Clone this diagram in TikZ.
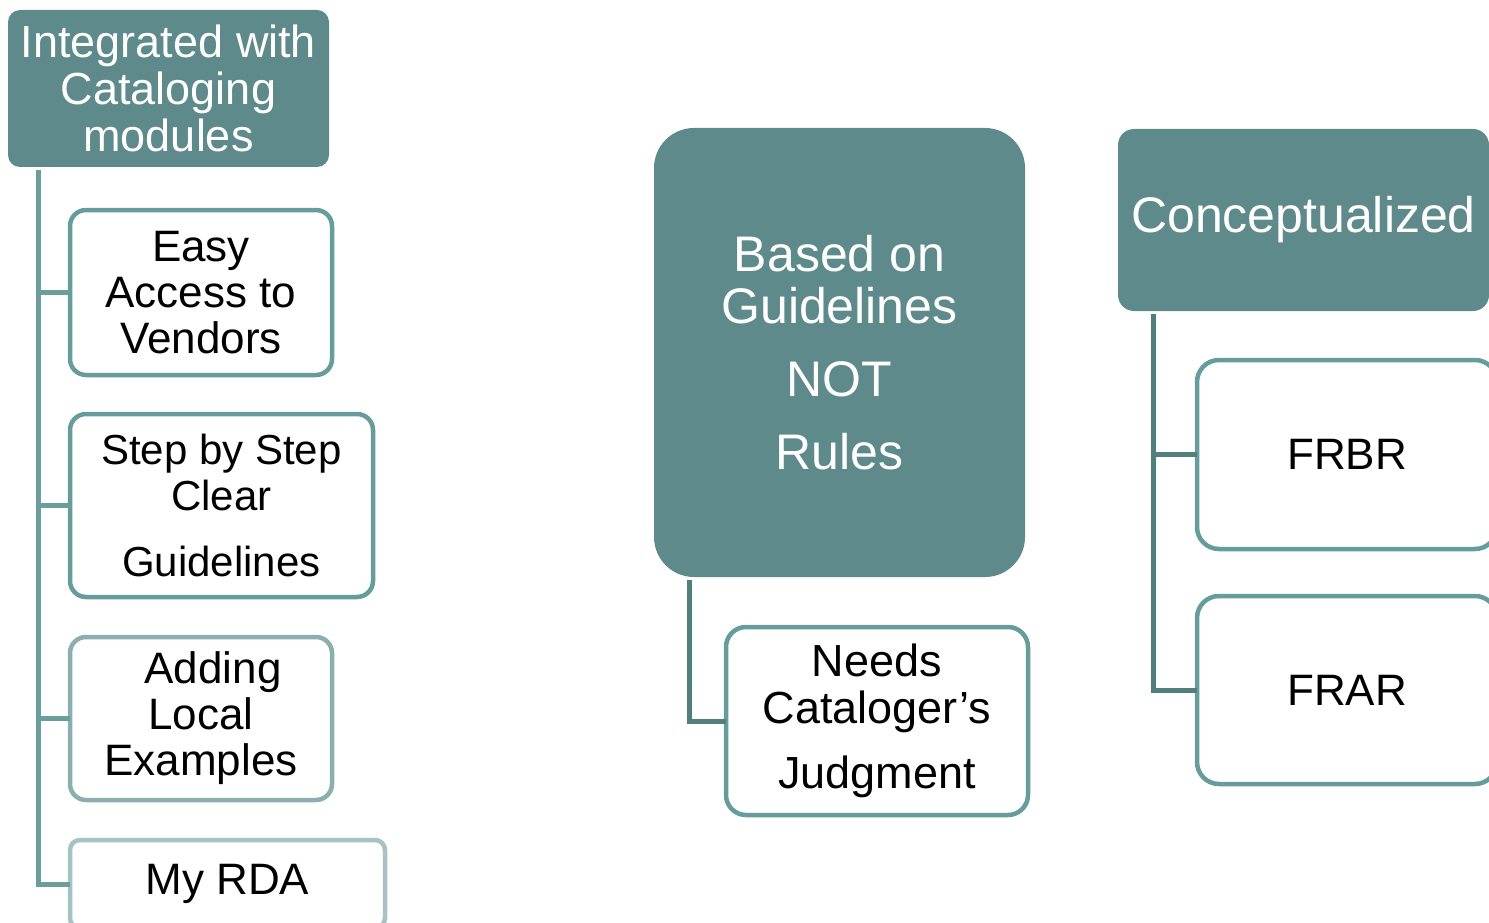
\documentclass[tikz,border=0pt]{standalone}
\usepackage{fontspec}
\setmainfont{Liberation Sans}
\usetikzlibrary{calc}
\definecolor{tealc}{RGB}{94,138,139}
\definecolor{bordc}{RGB}{102,156,156}
\definecolor{bordl}{RGB}{138,175,175}
\definecolor{bordxl}{RGB}{167,194,194}
\definecolor{connl}{RGB}{106,158,157}
\definecolor{connd}{RGB}{81,127,123}
\tikzset{
  tealbox/.style={rounded corners=12pt, fill=tealc, text=white, align=center, inner sep=0pt, outer sep=0pt},
  wbox/.style={rounded corners=16pt, draw=bordc, line width=4.5pt, fill=white, text=black, align=center, inner sep=0pt, outer sep=0pt},
  connline/.style={line width=5pt},
  fa/.style={font=\fontsize{45}{47}\selectfont},
  fb/.style={font=\fontsize{44}{46}\selectfont},
  fc/.style={font=\fontsize{42}{46}\selectfont},
  fd/.style={font=\fontsize{50}{52}\selectfont}
}
\begin{document}
\begin{tikzpicture}[x=1pt,y=-1pt]
\useasboundingbox (0,0) rectangle (1489,923);
\clip (0,0) rectangle (1489,923);
% left column
\node[tealbox, fa, minimum width=321pt, minimum height=157pt] (int) at (168.5,88.5) {Integrated with\\Cataloging\\modules};
\node[wbox, fb, minimum width=262pt, minimum height=165pt] (easy) at (201,292.5) {Easy\\Access to\\Vendors};
\node[wbox, fc, minimum width=303pt, minimum height=183pt] (step) at (221.5,505.5) {Step by Step\\Clear\\[20pt]Guidelines};
\node[wbox, fb, draw=bordl, minimum width=262pt, minimum height=163pt] (add) at (201,718.5) {\hspace*{24pt}Adding\\Local\\Examples};
\node[wbox, fb, draw=bordxl, rounded corners=10pt, minimum width=315pt, minimum height=88pt] (myrda) at (227.5,884) {My RDA};
\draw[connline, connl] ([xshift=30pt,yshift=-3pt]int.south west) |- (easy.west);
\draw[connline, connl] ([xshift=30pt,yshift=-3pt]int.south west) |- (step.west);
\draw[connline, connl] ([xshift=30pt,yshift=-3pt]int.south west) |- (add.west);
\draw[connline, connl] ([xshift=30pt,yshift=-3pt]int.south west) |- (myrda.west);
% middle column
\node[tealbox, fd, rounded corners=40pt, minimum width=371pt, minimum height=449pt] (based) at (839.5,352.5) {Based on\\Guidelines\\[21pt]NOT\\[21pt]Rules};
\node[wbox, font=\fontsize{45}{47}\selectfont, rounded corners=20pt, minimum width=302pt, minimum height=188pt] (needs) at (877,721) {Needs\\Cataloger’s\\[18pt]Judgment};
\draw[connline, connd] ([xshift=35pt,yshift=-3pt]based.south west) |- (needs.west);
% right column
\node[tealbox, fd, rounded corners=16pt, minimum width=371pt, minimum height=182pt] (concept) at (1303.5,220) {Conceptualized};
\node[wbox, fb, rounded corners=22pt, minimum width=300pt, minimum height=189pt] (frbr) at (1347,454.5) {FRBR};
\node[wbox, fb, rounded corners=22pt, minimum width=300pt, minimum height=188pt] (frar) at (1347,690) {FRAR};
\draw[connline, connd] ([xshift=35pt,yshift=-3pt]concept.south west) |- (frbr.west);
\draw[connline, connd] ([xshift=35pt,yshift=-3pt]concept.south west) |- (frar.west);
\end{tikzpicture}
\end{document}
